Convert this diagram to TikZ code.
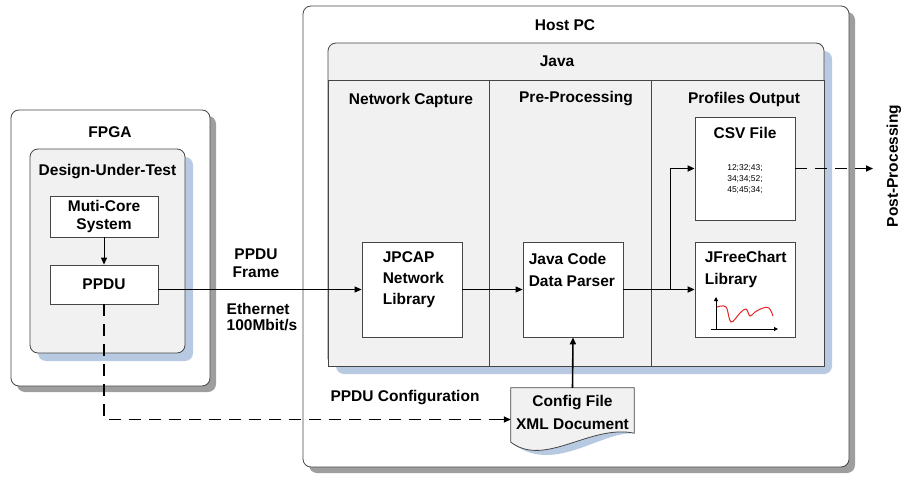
\documentclass[tikz,border=0pt]{standalone}
\usepackage{fontspec}
\setmainfont{Liberation Sans}
\usetikzlibrary{arrows.meta,positioning,shadows}
\definecolor{frame}{RGB}{70,70,70}
\definecolor{panel}{RGB}{241,241,241}
\definecolor{greyshadow}{RGB}{158,158,158}
\definecolor{blueshadow}{RGB}{184,202,226}
\definecolor{curve}{RGB}{228,36,36}
\tikzset{
  outer/.style={draw=frame,fill=white,line width=.8pt,rounded corners=8pt,
    drop shadow={shadow xshift=6pt,shadow yshift=-6pt,fill=greyshadow,opacity=1}},
  inner/.style={draw=frame,fill=panel,line width=.8pt,rounded corners=8pt,
    drop shadow={shadow xshift=8pt,shadow yshift=-8pt,fill=blueshadow,opacity=1}},
  block/.style={draw=frame,fill=white,line width=.8pt,inner sep=0pt},
  txt/.style={inner sep=0pt,align=left,anchor=north west,font=\fontsize{15.5}{22}\selectfont\bfseries},
  thinlink/.style={->,line width=1pt},
  link/.style={->,line width=1.6pt},
  dashlink/.style={line width=1.5pt,dash pattern=on 12pt off 8pt}
}
\begin{document}
\begin{tikzpicture}[x=1pt,y=-1pt,>={Triangle[length=7pt,width=6pt]},
  font=\fontsize{15.5}{18}\selectfont\bfseries]
\useasboundingbox (0,0) rectangle (901,476);
% FPGA side
\node[outer,minimum width=199pt,minimum height=276pt] (fpga) at (110.5,248) {};
\node (fpgaT) at (110,132) {FPGA};
\node[inner,minimum width=155pt,minimum height=204pt] (dut) at (107.5,251) {};
\node (dutT) at (107.5,172) {Design-Under-Test};
\node[block,minimum width=108pt,minimum height=41pt,align=center] (muti) at (104,216.5) {Muti-Core\\System};
\node[block,minimum width=108pt,minimum height=39pt] (ppdu) at (104,284.5) {PPDU};
\draw[thinlink] (muti) -- (ppdu);
% host side
\node[outer,minimum width=546pt,minimum height=461pt] (host) at (576,236.5) {};
\node (hostT) at (565,25) {Host PC};
\node[inner,minimum width=496pt,minimum height=323pt] (java) at (576,204.5) {};
\filldraw[draw=frame,fill=panel,line width=.8pt] (328,80) rectangle (824,366);
\draw[frame,line width=.8pt] (489,80) -- (489,366) (651,80) -- (651,366);
\node (javaT) at (557,61) {Java};
\node (capT) at (411,100) {Network Capture};
\node (preT) at (576,99) {Pre-Processing};
\node (outT) at (744,99) {Profiles Output};
% blocks
\node[block,minimum width=100pt,minimum height=95pt] (jpcap) at (412,289.5) {};
\node[txt,font=\fontsize{15.5}{21}\selectfont\bfseries,below right=10pt and 21pt of jpcap.north west] (jpcapT) {JPCAP\\Network\\Library};
\node[block,minimum width=100pt,minimum height=95pt] (parser) at (573,289.5) {};
\node[txt,below right=11pt and 6pt of parser.north west] (parserT) {Java Code\\Data Parser};
\node[block,minimum width=100pt,minimum height=103pt] (csv) at (745,168.5) {};
\node (csvT) at (745,133) {CSV File};
\node[align=center,inner sep=0pt,font=\fontsize{8.5}{11}\mdseries\selectfont] (csvD) at (745,179) {12;32;43;\\34;34;52;\\45;45;34;};
\node[block,minimum width=100pt,minimum height=95pt] (jfree) at (745,289.5) {};
\node[txt,below right=9pt and 10pt of jfree.north west] (jfreeT) {JFreeChart\\Library};
% chart icon
\draw[->,>={Triangle[length=4pt,width=4pt]},line width=1pt] (716,330) -- (716,297);
\draw[->,>={Triangle[length=4pt,width=4pt]},line width=1pt] (711,329) -- (778,329);
\draw[curve,line width=1pt] plot[smooth,tension=.6] coordinates {(717,307) (726,307) (731,322) (740,313) (746,309) (750,316) (755,312) (763,308) (769,308) (773,316)};
% config file
\node[inner sep=0pt,minimum width=123pt,minimum height=49pt,align=center,
  font=\fontsize{15.5}{23}\selectfont\bfseries] (config) at (572.5,412.5) {Config File\\XML Document};
\fill[blueshadow,xshift=8pt,yshift=-8pt] (config.north west) -- (config.north east) -- ([yshift=4pt]config.south east)
  .. controls (590,424) and (545,468) .. ([yshift=-5pt]config.south west) -- cycle;
\filldraw[draw=frame,fill=panel,line width=.8pt] (config.north west) -- (config.north east) -- ([yshift=4pt]config.south east)
  .. controls (590,424) and (545,468) .. ([yshift=-5pt]config.south west) -- cycle;
\node[inner sep=0pt,align=center,font=\fontsize{15.5}{23}\selectfont\bfseries] at (config) {Config File\\XML Document};
% labels
\node[align=center,font=\fontsize{15.5}{18}\selectfont\bfseries] (frameT) at (256,263) {PPDU\\Frame};
\node[align=left,font=\fontsize{15.5}{16.5}\selectfont\bfseries] (ethT) at (262,317) {Ethernet\\100Mbit/s};
\node (cfgT) at (405,398) {PPDU Configuration};
\node[rotate=90] (post) at (894,166) {Post-Processing};
\coordinate (postin) at (873,168.5);
% connectors
\draw[thinlink] (ppdu.east |- jpcap.west) -- (jpcap.west);
\draw[thinlink] (jpcap.east) -- (parser.west);
\draw[link] (parser.east) -- (jfree.west);
\draw[link] ([xshift=47pt]parser.east) |- (csv.west);
\draw[link] (config.north) -- (parser.south);
\draw[dashlink] (csv.east) -- (postin);
\draw[->,line width=1.5pt] ([xshift=-2pt]postin) -- (postin);
\draw[dashlink] (ppdu.south) |- ([yshift=-7pt,xshift=-9pt]config.west);
\draw[->,line width=1.5pt] ([yshift=-7pt,xshift=-10pt]config.west) -- ([yshift=-7pt]config.west);
\end{tikzpicture}
\end{document}
